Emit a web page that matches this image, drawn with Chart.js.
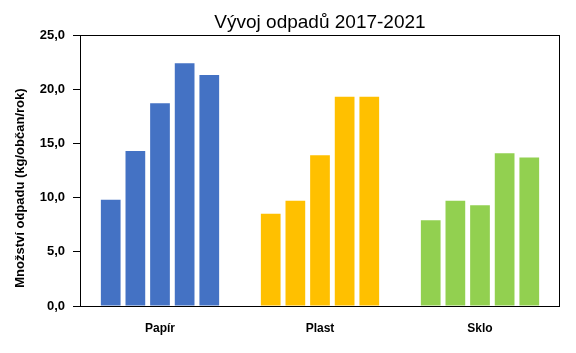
<!DOCTYPE html>
<html>
<head>
<meta charset="utf-8">
<script src="https://cdn.jsdelivr.net/npm/chart.js@4"></script>
<style>
html,body{margin:0;padding:0;background:#fff;}
#wrap{width:576px;height:353px;position:relative;}
</style>
</head>
<body>
<div id="wrap"><canvas id="c"></canvas></div>
<script>
const categories = ['Papír', 'Plast', 'Sklo'];
const years = ['2017', '2018', '2019', '2020', '2021'];
const papir = [9.8, 14.3, 18.7, 22.4, 21.3];
const plast = [8.5, 9.7, 13.9, 19.3, 19.3];
const sklo  = [7.9, 9.7, 9.3, 14.1, 13.7];
const yTickValues = [0, 5, 10, 15, 20, 25];
const categoryColors = ['#4472C4', '#FFC000', '#92D050'];
const titleText = 'Vývoj odpadů 2017-2021';
const yTitleText = 'Množství odpadu (kg/občan/rok)';

const FONT = "'Liberation Sans', Arial, sans-serif";

const datasets = years.map((y, i) => ({
  label: y,
  data: [papir[i], plast[i], sklo[i]],
  backgroundColor: categoryColors,
  categoryPercentage: 0.77,
  barPercentage: 0.8
}));

const framePlugin = {
  id: 'frame',
  afterDatasetsDraw(chart) {
    const a = chart.chartArea, ctx = chart.ctx;
    ctx.save();
    ctx.strokeStyle = '#000';
    ctx.lineWidth = 1;
    ctx.strokeRect(Math.round(a.left) + 0.5, Math.round(a.top) + 0.5,
      Math.round(a.right - a.left) - 1, Math.round(a.bottom - a.top));
    ctx.restore();
  }
};

// y-axis title, placed like the reference (a little below the axis centre)
const yTitlePlugin = {
  id: 'yTitle',
  afterDraw(chart) {
    const a = chart.chartArea, ctx = chart.ctx;
    const cy = a.top + (a.bottom - a.top) * 0.565;
    ctx.save();
    ctx.translate(20, cy);
    ctx.rotate(-Math.PI / 2);
    ctx.fillStyle = '#000';
    ctx.font = "bold 13px " + FONT;
    ctx.textAlign = 'center';
    ctx.textBaseline = 'middle';
    ctx.fillText(yTitleText, 0, 0);
    ctx.restore();
  }
};

new Chart(document.getElementById('c'), {
  type: 'bar',
  data: { labels: categories, datasets },
  plugins: [framePlugin, yTitlePlugin],
  options: {
    responsive: true,
    maintainAspectRatio: false,
    animation: false,
    layout: { padding: { left: 0, right: 16, top: 0, bottom: 0 } },
    plugins: {
      legend: { display: false },
      tooltip: { enabled: false },
      title: {
        display: true,
        text: titleText,
        fullSize: false,
        color: '#000',
        font: { family: FONT, size: 19, weight: 'normal' },
        padding: { top: 11, bottom: 1.2 }
      }
    },
    scales: {
      x: {
        grid: { display: false },
        border: { display: false },
        ticks: { color: '#000', font: { family: FONT, size: 12, weight: 'bold' }, padding: 7 },
        afterFit(s) { s.height = 47; }
      },
      y: {
        min: 0, max: 25,
        afterBuildTicks(s) { s.ticks = yTickValues.map(v => ({ value: v })); },
        grid: { drawOnChartArea: false, drawTicks: true, tickLength: 7, color: '#000' },
        border: { display: false },
        ticks: {
          color: '#000',
          padding: 8,
          font: { family: FONT, size: 13, weight: 'bold' },
          callback: v => v.toFixed(1).replace('.', ',')
        },
        title: { display: false },
        afterFit(s) { s.width = 80; }
      }
    }
  }
});
</script>
</body>
</html>
